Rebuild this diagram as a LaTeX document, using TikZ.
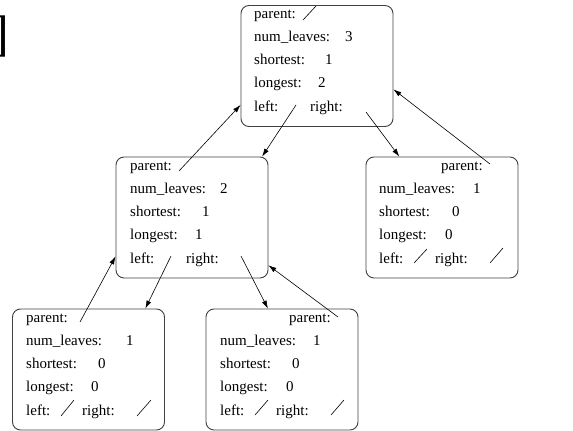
\documentclass[tikz,border=0pt]{standalone}
\usepackage{fontspec}
\setmainfont{Liberation Serif}
\usetikzlibrary{arrows.meta}
\begin{document}
\begin{tikzpicture}[x=1pt, y=-1pt,
    font=\fontsize{15}{18}\selectfont,
    treenode/.style = {draw=black!75, line width=0.9pt, rounded corners=8pt,
      minimum width=152pt, minimum height=121pt, inner sep=0pt},
    field/.style = {anchor=west, inner sep=0pt, text height=10pt, text depth=3pt},
    ptr/.style = {-{Latex[length=8pt, width=5pt]}, line width=0.6pt},
    nullptr/.style = {line width=0.6pt},
    ]
    \useasboundingbox (0,0) rectangle (573,431);
    \node [anchor=east, inner sep=0pt, font=\fontsize{50}{50}\selectfont] (brk) at (9,36) {]};

    % boxes
    \node [treenode] (root) at (317,66) {};
    \node [treenode] (l) at (192,217.5) {};
    \node [treenode] (r) at (442,217.5) {};
    \node [treenode] (ll) at (88.5,369.5) {};
    \node [treenode] (lr) at (282,369.5) {};

    % root
    \node [field] (root-p) at (254,15) {parent:};
    \node [field] (root-n) at (254,38) {num\_leaves:};
    \node [field] (root-nv) at (345,38) {3};
    \node [field] (root-s) at (254,61) {shortest:};
    \node [field] (root-sv) at (325,61) {1};
    \node [field] (root-g) at (254,84) {longest:};
    \node [field] (root-gv) at (318,84) {2};
    \node [field] (root-lt) at (254,108) {left:};
    \node [field] (root-rt) at (310,108) {right:};
    \coordinate (root-l) at (296,105);
    \coordinate (root-r) at (366,112);
    \draw [nullptr] (303,20) -- (316,6);

    % left child
    \node [field] (l-p) at (130,167) {parent:};
    \node [field] (l-n) at (130,190) {num\_leaves:};
    \node [field] (l-nv) at (220,190) {2};
    \node [field] (l-s) at (130,213) {shortest:};
    \node [field] (l-sv) at (202,213) {1};
    \node [field] (l-g) at (130,236) {longest:};
    \node [field] (l-gv) at (195,236) {1};
    \node [field] (l-lt) at (130,260) {left:};
    \node [field] (l-rt) at (186,260) {right:};
    \coordinate (l-up) at (179,171);
    \coordinate (l-l) at (171,256);
    \coordinate (l-r) at (241,256);

    % right child
    \node [field, anchor=east] (r-p) at (483,167) {parent:};
    \node [field] (r-n) at (379,190) {num\_leaves:};
    \node [field] (r-nv) at (473,190) {1};
    \node [field] (r-s) at (379,213) {shortest:};
    \node [field] (r-sv) at (452,213) {0};
    \node [field] (r-g) at (379,236) {longest:};
    \node [field] (r-gv) at (445,236) {0};
    \node [field] (r-lt) at (379,260) {left:};
    \node [field] (r-rt) at (435,260) {right:};
    \coordinate (r-up) at (490,164);
    \draw [nullptr] (414,263) -- (427,249);
    \draw [nullptr] (490,263) -- (503,248);

    % left-left leaf
    \node [field] (ll-p) at (26,319) {parent:};
    \node [field] (ll-n) at (26,342) {num\_leaves:};
    \node [field] (ll-nv) at (126,342) {1};
    \node [field] (ll-s) at (26,365) {shortest:};
    \node [field] (ll-sv) at (98,365) {0};
    \node [field] (ll-g) at (26,388) {longest:};
    \node [field] (ll-gv) at (91,388) {0};
    \node [field] (ll-lt) at (26,412) {left:};
    \node [field] (ll-rt) at (82,412) {right:};
    \coordinate (ll-up) at (80,322);
    \draw [nullptr] (61,416) -- (74,400);
    \draw [nullptr] (137,416) -- (151,400);

    % left-right leaf
    \node [field, anchor=east] (lr-p) at (331,319) {parent:};
    \node [field] (lr-n) at (220,342) {num\_leaves:};
    \node [field] (lr-nv) at (313,342) {1};
    \node [field] (lr-s) at (220,365) {shortest:};
    \node [field] (lr-sv) at (292,365) {0};
    \node [field] (lr-g) at (220,388) {longest:};
    \node [field] (lr-gv) at (286,388) {0};
    \node [field] (lr-lt) at (220,412) {left:};
    \node [field] (lr-rt) at (276,412) {right:};
    \coordinate (lr-up) at (338,317);
    \draw [nullptr] (255,415) -- (268,400);
    \draw [nullptr] (331,415) -- (344,400);

    % pointers
    \draw [ptr] (root-l) -- (l.41);
    \draw [ptr] (root-r) -- (r.125);
    \draw [ptr] (l-up) -- (root.207);
    \draw [ptr] (r-up) -- (root.-17);
    \draw [ptr] (l-l) -- (ll.47);
    \draw [ptr] (l-r) -- (lr.103);
    \draw [ptr] (ll-up) -- (l.207);
    \draw [ptr] (lr-up) -- (l.-32);
\end{tikzpicture}
\end{document}
